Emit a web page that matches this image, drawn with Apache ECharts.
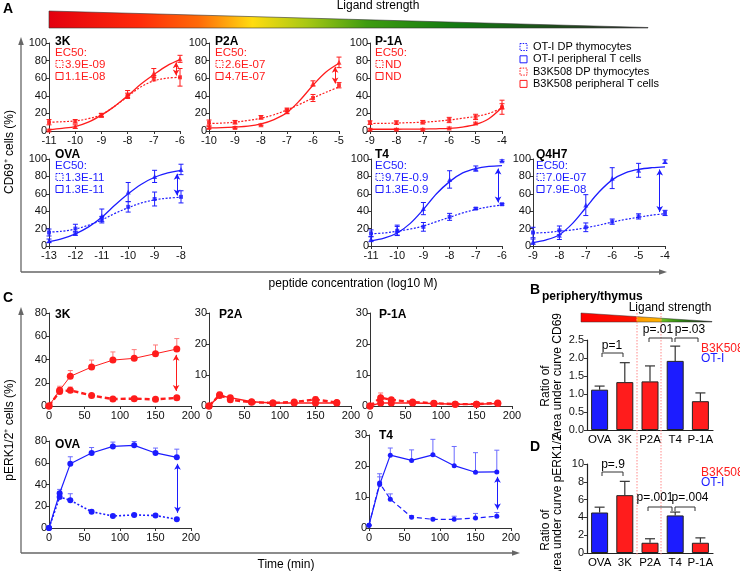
<!DOCTYPE html>
<html><head><meta charset="utf-8">
<script src="https://cdn.jsdelivr.net/npm/echarts/dist/echarts.min.js"></script>
<style>html,body{margin:0;padding:0;background:#fff}#c{width:740px;height:571px}</style>
</head><body><div id="c"></div>
<script>
// ---------------- DATA ----------------
// Panel A : CD69+ (%) vs peptide concentration (log10 M)
const A_3K_x = [-11,-10,-9,-8,-7,-6];
const A_3K_thy = [10,11,18,40,60,61];
const A_3K_thyErr = [3,2,2,3,3,10];
const A_3K_per = [1,5,18,42,66,82];
const A_3K_perErr = [1,2,2,4,5,4];
const A_3K_fitX = [-11,-10.5,-10,-9.5,-9,-8.5,-8,-7.5,-7,-6.5,-6];
const A_3K_thyFit = [10,10.5,11.5,14,18.5,28,39,50,57,60,61];
const A_3K_perFit = [1.5,3,5,10,18,28,40,53,64,74,81];
const A_3K_arrow = [-6.15,78,63];
const A_3K_ec50 = ['3.9E-09','1.1E-08'];

const A_P2A_x = [-10,-9,-8,-7,-6,-5];
const A_P2A_thy = [9.5,10,15.5,24,37.5,52];
const A_P2A_thyErr = [3,2,2,2,4,3];
const A_P2A_per = [4,4,7,22,54,78];
const A_P2A_perErr = [1,1,1,2,3,6];
const A_P2A_fitX = [-10,-9.5,-9,-8.5,-8,-7.5,-7,-6.5,-6,-5.5,-5];
const A_P2A_thyFit = [8.5,9,10,12,14.5,18.5,24,30.5,37.5,44,50];
const A_P2A_perFit = [3.5,3.8,4.5,5.5,8,13,21,35,52,67,77];
const A_P2A_arrow = [-5.15,73,54];
const A_P2A_ec50 = ['2.6E-07','4.7E-07'];

const A_P1A_x = [-9,-8,-7,-6,-5,-4];
const A_P1A_thy = [9.5,9.5,10,12.5,16,27];
const A_P1A_thyErr = [2,2,2,3,3,8];
const A_P1A_per = [2,2,2,3.5,9,28];
const A_P1A_perErr = [1,1,1,1,1,3];
const A_P1A_fitX = [-9,-8.5,-8,-7.5,-7,-6.5,-6,-5.5,-5,-4.5,-4];
const A_P1A_thyFit = [8.5,8.7,9,9.5,10,11,12.5,14.5,16.5,20,26];
const A_P1A_perFit = [2,2,2,2.1,2.2,2.5,3,4.5,7.5,14,27];
const A_P1A_ec50 = ['ND','ND'];

const A_OVA_x = [-13,-12,-11,-10,-9,-8];
const A_OVA_thy = [15.5,20,31,45,54,56.5];
const A_OVA_thyErr = [4,5,3,6,8,7];
const A_OVA_per = [6,14.5,34.5,62,80,88];
const A_OVA_perErr = [2,2,8,11,7,6];
const A_OVA_fitX = [-13,-12.5,-12,-11.5,-11,-10.5,-10,-9.5,-9,-8.5,-8];
const A_OVA_thyFit = [16,17,19.5,24,30,37.5,44,49.5,53,55,56];
const A_OVA_perFit = [5,8.5,14,22,33,47,60,71,79,84,87];
const A_OVA_arrow = [-8.15,83,58];
const A_OVA_ec50 = ['1.3E-11','1.3E-11'];

const A_T4_x = [-11,-10,-9,-8,-7,-6];
const A_T4_thy = [14.5,17.5,22,33.5,43,48];
const A_T4_thyErr = [4,5,5,4,1,1];
const A_T4_per = [8,18,43,76.5,89,98];
const A_T4_perErr = [3,6,7,10,3,1];
const A_T4_fitX = [-11,-10.5,-10,-9.5,-9,-8.5,-8,-7.5,-7,-6.5,-6];
const A_T4_thyFit = [14,15,17,19.5,23,28,33,38,42,45,47];
const A_T4_perFit = [6,9,15,26,42,60,74,84,89,91.5,92.5];
const A_T4_arrow = [-6.15,89,50];
const A_T4_ec50 = ['9.7E-0.9','1.3E-0.9'];

const A_Q4H7_x = [-9,-8,-7,-6,-5,-4];
const A_Q4H7_thy = [15.5,18,21.5,28,34,38];
const A_Q4H7_thyErr = [6,5,5,3,3,3];
const A_Q4H7_per = [5,12.5,47,78,87,97];
const A_Q4H7_perErr = [3,5,12,12,8,2];
const A_Q4H7_fitX = [-9,-8.5,-8,-7.5,-7,-6.5,-6,-5.5,-5,-4.5,-4];
const A_Q4H7_thyFit = [15,15.5,17,18.5,21,24,27.5,30.5,33,35.5,37];
const A_Q4H7_perFit = [4,7,13,26,44,62,76,84,88,90,91];
const A_Q4H7_arrow = [-4.2,88,39];
const A_Q4H7_ec50 = ['7.0E-07','7.9E-08'];

// Panel C : pERK1/2+ (%) vs time (min)
const C_time = [0,15,30,60,90,120,150,180];
const C_3K_per = [0,13.5,25.5,33.5,39.5,41,45,49];
const C_3K_perErr = [0,3.5,5,6,7,7.5,7.5,9];
const C_3K_thy = [0,12.5,13.5,9,6,6.3,5.7,7];
const C_3K_thyErr = [0,3,2.8,1,0.5,2,1.7,2];
const C_3K_arrow = [179,44,13];

const C_P2A_per = [0,3.4,2.7,1.4,1,1,1,1];
const C_P2A_perErr = [0,1,0.7,0.3,0.3,0.3,0.3,0.3];
const C_P2A_thy = [0,3.6,2,1.2,1,1.3,2.1,1.1];
const C_P2A_thyErr = [0,0.8,0.6,0.3,0.3,0.3,0.8,0.3];

const C_P1A_per = [0,1,1,1,0.8,0.6,0.6,0.8];
const C_P1A_perErr = [0,0.2,0.2,0.2,0.2,0.2,0.2,0.2];
const C_P1A_thy = [0,2.7,2,1.3,0.9,0.6,0.6,1];
const C_P1A_thyErr = [0,1.5,0.7,0.3,0.3,0.2,0.2,0.4];

const C_OVA_per = [0,32,59,69,75,76,69,65];
const C_OVA_perErr = [0,3.5,6.5,5,4,3.5,4.5,7.5];
const C_OVA_thy = [0,28.5,25.5,15,11,12,11.5,8];
const C_OVA_thyErr = [0,2,6,1.5,1,1,1,1];
const C_OVA_arrow = [181,59,14];

const C_T4_per = [0.9,14,23.5,21.8,23.6,20.1,18,18.1];
const C_T4_perErr = [0,3.5,2.3,3.4,5,6.2,6.3,7];
const C_T4_thy = [0.9,14.5,9.3,3.5,2.8,2.8,3.2,3.8];
const C_T4_thyErr = [0,2,1.7,0.5,0.4,1,1.5,1.2];
const C_T4_arrow = [181,16.5,6];

// Panels B & D : ratio of area under curve (periphery/thymus)
const BD_cats = ['OVA','3K','P2A','T4','P-1A'];
const BD_strain = ['OT-I','B3K508','B3K508','OT-I','B3K508'];
const B_vals = [1.12,1.33,1.35,1.92,0.80];
const B_err = [0.10,0.54,0.43,0.41,0.23];
const D_vals = [4.55,6.5,1.15,4.22,1.15];
const D_err = [0.6,1.55,0.45,0.38,0.55];

// ---------------- BUILD ----------------
const RED = '#ff1c1c', BLUE = '#1c1cff';
const RED_L = '#ff7a7a', BLUE_L = '#6a6aff';
const FONT = '"Liberation Sans", Arial, Helvetica, sans-serif';
const zip = (a,b)=>a.map((v,k)=>[v,b[k]]);
const grids=[], xAxes=[], yAxes=[], series=[], graphics=[];

function addGrid(g, xa, ya){
  const i = grids.length;
  grids.push(Object.assign({containLabel:false}, g));
  xAxes.push(Object.assign({gridIndex:i}, xa));
  yAxes.push(Object.assign({gridIndex:i}, ya));
  return i;
}
const axLine = {show:true, onZero:false, lineStyle:{color:'#333', width:1}};
const axTick = {show:true, length:3, lineStyle:{color:'#333'}};
function valAxis(min,max,interval,margin,fmt){
  return {type:'value', min, max, interval, axisLine:axLine, axisTick:axTick,
    splitLine:{show:false},
    axisLabel:{color:'#111', fontSize:11, margin:margin, fontFamily:FONT, formatter:fmt}};
}
function errSeries(i, xs, ys, es, color, both, capW, lw){
  return {type:'custom', xAxisIndex:i, yAxisIndex:i, silent:true, z:3, clip:false,
    data: xs.map((x,k)=>[x, both ? ys[k]-es[k] : ys[k], ys[k]+es[k]]),
    encode:{x:0, y:[1,2]},
    renderItem:(p,api)=>{
      const x = api.value(0);
      const lo = api.coord([x, api.value(1)]), hi = api.coord([x, api.value(2)]);
      const st = {stroke:color, lineWidth:lw||1};
      const ch = [
        {type:'line', shape:{x1:lo[0],y1:lo[1],x2:hi[0],y2:hi[1]}, style:st},
        {type:'line', shape:{x1:hi[0]-capW,y1:hi[1],x2:hi[0]+capW,y2:hi[1]}, style:st}];
      if (both) ch.push({type:'line', shape:{x1:lo[0]-capW,y1:lo[1],x2:lo[0]+capW,y2:lo[1]}, style:st});
      return {type:'group', children:ch};
    }};
}
function arrowML(arr, color){
  return {silent:true, symbol:['arrow','arrow'], symbolSize:[5,6], label:{show:false},
    lineStyle:{color, width:1, type:'solid'}, emphasis:{disabled:true}, animation:false,
    data:[[{coord:[arr[0],arr[1]]},{coord:[arr[0],arr[2]]}]]};
}
function txt(t, x, y, o){
  o = o || {};
  return {type:'text', x, y, rotation:o.rotation||0, silent:true, z:10,
    style:Object.assign({text:t, fill:o.fill||'#000', fontSize:o.fontSize||11,
      fontWeight:o.fontWeight||'normal', fontFamily:FONT,
      align:o.align||'left', textAlign:o.align||'left',
      verticalAlign:'middle', textVerticalAlign:'middle'}, o.extra||{})};
}
function box(x, y, color, dashed){
  return {type:'rect', silent:true, z:10, shape:{x, y, width:7, height:7},
    style:{fill:'none', stroke:color, lineWidth:1, lineDash: dashed ? [1.5,1.2] : null}};
}
function line(x1,y1,x2,y2,color,w,dash){
  return {type:'line', silent:true, z:10, shape:{x1,y1,x2,y2},
    style:{stroke:color, lineWidth:w||1, lineDash:dash||null}};
}
function poly(pts, color){
  return {type:'polygon', silent:true, z:10, shape:{points:pts}, style:{fill:color}};
}

// ----- Panel A sub-plots -----
function dosePanel(c){
  const i = addGrid({left:c.left, top:c.top, width:c.width, height:c.height},
    valAxis(c.xmin, c.xmax, 1, 4), valAxis(0, 100, 20, 2));
  const col = c.color;
  series.push({type:'line', xAxisIndex:i, yAxisIndex:i, data:zip(c.fitX,c.thyFit), smooth:0.35,
    showSymbol:false, silent:true, lineStyle:{color:col, width:1.2, type:[2,1.6]}});
  series.push({type:'line', xAxisIndex:i, yAxisIndex:i, data:zip(c.fitX,c.perFit), smooth:0.35,
    showSymbol:false, silent:true, lineStyle:{color:col, width:1.3}});
  series.push(errSeries(i, c.x, c.thy, c.thyErr, col, true, 2.5));
  series.push(errSeries(i, c.x, c.per, c.perErr, col, true, 2.5));
  series.push({type:'scatter', xAxisIndex:i, yAxisIndex:i, data:zip(c.x,c.thy), symbol:'rect',
    symbolSize:4, itemStyle:{color:col}, z:4, silent:true});
  const sc = {type:'scatter', xAxisIndex:i, yAxisIndex:i, data:zip(c.x,c.per), symbol:'triangle',
    symbolSize:5, itemStyle:{color:col}, z:4, silent:true};
  if (c.arrow) sc.markLine = arrowML(c.arrow, col);
  series.push(sc);
  // title + EC50 annotation
  graphics.push(txt(c.title, c.tx, c.ty, {fontWeight:'bold', fontSize:12}));
  graphics.push(txt('EC50:', c.tx, c.ty+11, {fill:col, fontSize:11.5}));
  graphics.push(box(c.tx+1, c.ty+22-3.5, col, true));
  graphics.push(txt(c.ec50[0], c.tx+10, c.ty+22.5, {fill:col, fontSize:11.5}));
  graphics.push(box(c.tx+1, c.ty+34-3.5, col, false));
  graphics.push(txt(c.ec50[1], c.tx+10, c.ty+34.5, {fill:col, fontSize:11.5}));
}
dosePanel({left:49, top:43, width:131, height:88, xmin:-11, xmax:-6, color:RED, title:'3K', tx:55, ty:42,
  x:A_3K_x, thy:A_3K_thy, thyErr:A_3K_thyErr, per:A_3K_per, perErr:A_3K_perErr,
  fitX:A_3K_fitX, thyFit:A_3K_thyFit, perFit:A_3K_perFit, arrow:A_3K_arrow, ec50:A_3K_ec50});
dosePanel({left:209, top:43, width:130, height:88, xmin:-10, xmax:-5, color:RED, title:'P2A', tx:215, ty:42,
  x:A_P2A_x, thy:A_P2A_thy, thyErr:A_P2A_thyErr, per:A_P2A_per, perErr:A_P2A_perErr,
  fitX:A_P2A_fitX, thyFit:A_P2A_thyFit, perFit:A_P2A_perFit, arrow:A_P2A_arrow, ec50:A_P2A_ec50});
dosePanel({left:370, top:43, width:132, height:88, xmin:-9, xmax:-4, color:RED, title:'P-1A', tx:375, ty:42,
  x:A_P1A_x, thy:A_P1A_thy, thyErr:A_P1A_thyErr, per:A_P1A_per, perErr:A_P1A_perErr,
  fitX:A_P1A_fitX, thyFit:A_P1A_thyFit, perFit:A_P1A_perFit, arrow:null, ec50:A_P1A_ec50});
dosePanel({left:49, top:159, width:132, height:87, xmin:-13, xmax:-8, color:BLUE, title:'OVA', tx:55, ty:155,
  x:A_OVA_x, thy:A_OVA_thy, thyErr:A_OVA_thyErr, per:A_OVA_per, perErr:A_OVA_perErr,
  fitX:A_OVA_fitX, thyFit:A_OVA_thyFit, perFit:A_OVA_perFit, arrow:A_OVA_arrow, ec50:A_OVA_ec50});
dosePanel({left:371, top:159, width:131, height:87, xmin:-11, xmax:-6, color:BLUE, title:'T4', tx:375, ty:155,
  x:A_T4_x, thy:A_T4_thy, thyErr:A_T4_thyErr, per:A_T4_per, perErr:A_T4_perErr,
  fitX:A_T4_fitX, thyFit:A_T4_thyFit, perFit:A_T4_perFit, arrow:A_T4_arrow, ec50:A_T4_ec50});
dosePanel({left:533, top:159, width:132, height:87, xmin:-9, xmax:-4, color:BLUE, title:'Q4H7', tx:536, ty:155,
  x:A_Q4H7_x, thy:A_Q4H7_thy, thyErr:A_Q4H7_thyErr, per:A_Q4H7_per, perErr:A_Q4H7_perErr,
  fitX:A_Q4H7_fitX, thyFit:A_Q4H7_thyFit, perFit:A_Q4H7_perFit, arrow:A_Q4H7_arrow, ec50:A_Q4H7_ec50});

// ----- Panel C sub-plots -----
function timePanel(c){
  const i = addGrid({left:c.left, top:c.top, width:c.width, height:c.height},
    valAxis(0, 200, 50, 4), valAxis(0, c.ymax, c.yint, 2));
  const col = c.color, lcol = c.lcolor;
  series.push(errSeries(i, C_time, c.thy, c.thyErr, lcol, false, 2.5));
  series.push(errSeries(i, C_time, c.per, c.perErr, lcol, false, 2.5));
  series.push({type:'line', xAxisIndex:i, yAxisIndex:i, data:zip(C_time,c.thy), silent:true,
    symbol:'circle', symbolSize:c.sym, showSymbol:true, itemStyle:{color:col},
    lineStyle:{color:col, width:c.thyW, type:c.thyDash}, z:4});
  const s = {type:'line', xAxisIndex:i, yAxisIndex:i, data:zip(C_time,c.per), silent:true,
    symbol:'circle', symbolSize:c.sym, showSymbol:true, itemStyle:{color:col},
    lineStyle:{color:col, width:c.perW}, z:5};
  if (c.arrow) s.markLine = arrowML(c.arrow, col);
  series.push(s);
  graphics.push(txt(c.title, c.tx, c.ty, {fontWeight:'bold', fontSize:12}));
}
timePanel({left:49, top:313, width:142, height:93, ymax:80, yint:20, color:RED, lcolor:RED_L, sym:7,
  per:C_3K_per, perErr:C_3K_perErr, thy:C_3K_thy, thyErr:C_3K_thyErr, arrow:C_3K_arrow,
  perW:1, thyW:2.4, thyDash:[5,3], title:'3K', tx:55, ty:315});
timePanel({left:209, top:313, width:142, height:93, ymax:30, yint:10, color:RED, lcolor:RED_L, sym:7,
  per:C_P2A_per, perErr:C_P2A_perErr, thy:C_P2A_thy, thyErr:C_P2A_thyErr, arrow:null,
  perW:1.5, thyW:2.4, thyDash:[5,3], title:'P2A', tx:219, ty:315});
timePanel({left:370, top:313, width:142, height:93, ymax:30, yint:10, color:RED, lcolor:RED_L, sym:7,
  per:C_P1A_per, perErr:C_P1A_perErr, thy:C_P1A_thy, thyErr:C_P1A_thyErr, arrow:null,
  perW:1.5, thyW:2.4, thyDash:[5,3], title:'P-1A', tx:379, ty:315});
timePanel({left:49, top:441, width:142, height:87, ymax:80, yint:20, color:BLUE, lcolor:BLUE_L, sym:6,
  per:C_OVA_per, perErr:C_OVA_perErr, thy:C_OVA_thy, thyErr:C_OVA_thyErr, arrow:C_OVA_arrow,
  perW:1.2, thyW:1.6, thyDash:[2,2], title:'OVA', tx:55, ty:445});
timePanel({left:369, top:435, width:142, height:93, ymax:30, yint:10, color:BLUE, lcolor:BLUE_L, sym:5,
  per:C_T4_per, perErr:C_T4_perErr, thy:C_T4_thy, thyErr:C_T4_thyErr, arrow:C_T4_arrow,
  perW:1.2, thyW:1.2, thyDash:[5,3], title:'T4', tx:379, ty:436});

// ----- Panels B & D -----
function barPanel(c){
  const i = addGrid({left:587, top:c.top, width:126, height:c.height},
    {type:'category', data:BD_cats, axisLine:{show:true, lineStyle:{color:'#222', width:1.2}},
     axisTick:{show:false},
     axisLabel:{color:'#000', fontSize:11.5, margin:4, fontFamily:FONT, interval:0, hideOverlap:false}},
    Object.assign(valAxis(0, c.ymax, c.yint, 3, c.fmt), {axisLine:{show:true, lineStyle:{color:'#222', width:1.2}}}));
  series.push({type:'bar', xAxisIndex:i, yAxisIndex:i, barWidth:17, silent:true,
    data:c.vals.map((v,k)=>({value:v, itemStyle:{color: BD_strain[k]==='OT-I' ? BLUE : RED,
      borderColor:'#222', borderWidth:1}}))});
  series.push(errSeries(i, BD_cats.map((_,k)=>k), c.vals, c.err, '#333', false, 5, 1.2));
}
barPanel({top:340, height:90, ymax:2.5, yint:0.5, vals:B_vals, err:B_err, fmt:v=>v.toFixed(1)});
barPanel({top:464, height:89, ymax:10, yint:2, vals:D_vals, err:D_err, fmt:v=>String(v)});

// ----- Decorations -----
const wedgeA = {type:'polygon', silent:true, z:9, shape:{points:[[49,11],[648,27.5],[648,28],[49,28]]},
  style:{stroke:'#333', lineWidth:0.6, fill:new echarts.graphic.LinearGradient(0,0,1,0,[
    {offset:0,color:'#e3000f'},{offset:0.15,color:'#ff2a0a'},{offset:0.25,color:'#ff6a08'},
    {offset:0.34,color:'#ffdc10'},{offset:0.43,color:'#a8c814'},{offset:0.53,color:'#3e9c10'},
    {offset:0.68,color:'#137a12'},{offset:0.85,color:'#1e4a1a'},{offset:1,color:'#333'}])}};
graphics.push(wedgeA);
graphics.push(txt('Ligand strength', 378, 6, {fontSize:12, align:'center'}));
const wedgeB = {type:'polygon', silent:true, z:9, shape:{points:[[581,313],[712,321.5],[712,322],[581,322]]},
  style:{stroke:'#333', lineWidth:0.5, fill:new echarts.graphic.LinearGradient(0,0,1,0,[
    {offset:0,color:'#ff0000'},{offset:0.42,color:'#ff1400'},{offset:0.43,color:'#ff9a00'},
    {offset:0.6,color:'#ffb200'},{offset:0.62,color:'#6cc020'},{offset:0.75,color:'#2f8a12'},
    {offset:1,color:'#222'}])}};
graphics.push(wedgeB);
graphics.push(txt('Ligand strength', 670, 308, {fontSize:12, align:'center'}));
graphics.push(txt('periphery/thymus', 542, 297, {fontSize:12, fontWeight:'bold'}));

// panel letters
graphics.push(txt('A', 3, 9, {fontSize:14, fontWeight:'bold'}));
graphics.push(txt('C', 3, 298, {fontSize:14, fontWeight:'bold'}));
graphics.push(txt('B', 530, 290, {fontSize:14, fontWeight:'bold'}));
graphics.push(txt('D', 530, 447, {fontSize:14, fontWeight:'bold'}));

// frame arrows
const FR = '#666';
graphics.push(line(21,272,21,41,FR,1.3));
graphics.push(poly([[18.2,45],[21,37],[23.8,45]],FR));
graphics.push(line(21,272,661,272,FR,1.3));
graphics.push(poly([[659,269.2],[667,272],[659,274.8]],FR));
graphics.push(line(21,553,21,311,FR,1.3));
graphics.push(poly([[18.2,315],[21,307],[23.8,315]],FR));
graphics.push(line(21,553,514,553,FR,1.3));
graphics.push(poly([[512,550.2],[520,553],[512,555.8]],FR));

// axis titles
graphics.push(txt('CD69⁺ cells (%)', 10, 152, {fontSize:12, align:'center', rotation:Math.PI/2}));
graphics.push(txt('pERK1/2⁺ cells (%)', 10, 430, {fontSize:12, align:'center', rotation:Math.PI/2}));
graphics.push(txt('peptide concentration (log10 M)', 353, 284, {fontSize:12, align:'center'}));
graphics.push(txt('Time (min)', 286, 565, {fontSize:12, align:'center'}));
graphics.push(txt('Ratio of', 546, 386, {fontSize:12, align:'center', rotation:Math.PI/2}));
graphics.push(txt('Area under curve CD69', 558, 376, {fontSize:12, align:'center', rotation:Math.PI/2}));
graphics.push(txt('Ratio of', 546, 530, {fontSize:12, align:'center', rotation:Math.PI/2}));
graphics.push(txt('Area under curve pERK1/2', 558, 506, {fontSize:12, align:'center', rotation:Math.PI/2}));

// legend A
const legA = [['OT-I DP thymocytes',BLUE,true],['OT-I peripheral T cells',BLUE,false],
  ['B3K508 DP thymocytes',RED,true],['B3K508 peripheral T cells',RED,false]];
legA.forEach((l,k)=>{
  const y = 47 + k*12.3;
  graphics.push(box(520, y-3.5, l[1], l[2]));
  graphics.push(txt(l[0], 533, y, {fontSize:11}));
});

// legends B / D
graphics.push(txt('B3K508', 701, 349, {fontSize:12, fill:RED}));
graphics.push(txt('OT-I', 701, 359, {fontSize:12, fill:BLUE}));
graphics.push(txt('B3K508', 701, 473, {fontSize:12, fill:RED}));
graphics.push(txt('OT-I', 701, 483, {fontSize:12, fill:BLUE}));

// dotted separators
graphics.push(line(637,313,637,556,'#ff8a8a',1,[1.5,1.5]));
graphics.push(line(661,313,661,556,'#ff8a8a',1,[1.5,1.5]));

// brackets with p-values
function bracket(x1,x2,y,label,tx,ty){
  graphics.push(line(x1,y,x2,y,'#333',1));
  graphics.push(line(x1,y,x1,y+4,'#333',1));
  graphics.push(line(x2,y,x2,y+4,'#333',1));
  graphics.push(txt(label, tx, ty, {fontSize:12, align:'center'}));
}
bracket(602,623,353,'p=1',612,346);
bracket(649,672,338,'p=.01',658,330);
bracket(675,698,338,'p=.03',690,330);
bracket(602,623,472,'p=.9',613,465);
bracket(648,672,507,'p=.001',655,498);
bracket(675,695,507,'p=.004',690,498);

const chart = echarts.init(document.getElementById('c'), null, {renderer:'canvas'});
chart.setOption({
  animation:false, backgroundColor:'#fff',
  textStyle:{fontFamily:FONT},
  grid:grids, xAxis:xAxes, yAxis:yAxes, series:series, graphic:graphics
});
</script></body></html>
